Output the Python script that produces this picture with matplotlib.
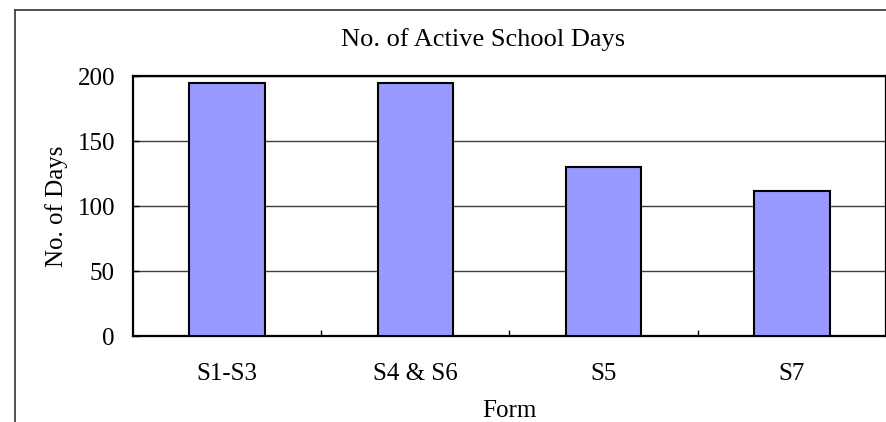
import numpy as np
import matplotlib
matplotlib.use("Agg")
import matplotlib.pyplot as plt
from matplotlib.lines import Line2D

plt.rcParams['font.family'] = ['Liberation Serif', 'DejaVu Serif']

# Data
forms = ["S1-S3", "S4 & S6", "S5", "S7"]
days = [195, 195, 130, 112]
y_ticks = [0, 50, 100, 150, 200]

fig = plt.figure(figsize=(8.87, 4.22), dpi=100)
ax = fig.add_axes([133 / 887, 1 - 336.3 / 422, 753 / 887, 260 / 422])

x = np.arange(len(forms))
ax.bar(x, days, width=0.4, color="#9999FF", edgecolor="black", linewidth=1.5, zorder=3)

ax.set_xlim(-0.5, len(forms) - 0.5)
ax.set_ylim(0, 200)
ax.set_yticks(y_ticks)
ax.yaxis.grid(True, color="#404040", linewidth=1.0, zorder=0)
ax.set_axisbelow(True)

ax.set_xticks(x)
ax.set_xticklabels(forms)
ax.set_xticks(x[:-1] + 0.5, minor=True)
ax.tick_params(axis="x", which="major", length=0, pad=19, labelsize=18)
ax.tick_params(axis="x", which="minor", direction="in", length=4, width=1)
ax.tick_params(axis="y", direction="in", length=4, width=1, pad=13, labelsize=18)

for s in ax.spines.values():
    s.set_linewidth(1.6)
    s.set_color("black")

ax.set_xlabel("Form", fontsize=18, labelpad=11)
ax.set_ylabel("No. of Days", fontsize=18, labelpad=7)
fig.text(483 / 887, 1 - 40 / 422, "No. of Active School Days", ha="center", va="center", fontsize=19)

# outer chart frame (right and bottom edges fall outside the image)
fig.add_artist(Line2D([15 / 887, 15 / 887], [0, 1 - 9.5 / 422], color="#333333", linewidth=1.2))
fig.add_artist(Line2D([15 / 887, 1], [1 - 9.5 / 422, 1 - 9.5 / 422], color="#333333", linewidth=1.2))

fig.savefig("out.png", dpi=100)
